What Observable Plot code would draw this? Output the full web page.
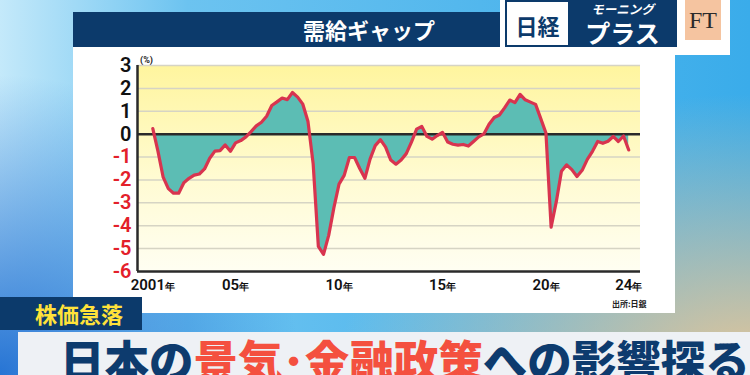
<!DOCTYPE html>
<html><head><meta charset="utf-8">
<script src="https://cdn.jsdelivr.net/npm/d3@7"></script>
<script src="https://cdn.jsdelivr.net/npm/@observablehq/plot@0.6"></script>
<style>
html,body{margin:0;padding:0;}
body{width:750px;height:375px;overflow:hidden;position:relative;font-family:"Noto Sans CJK JP","Noto Sans",sans-serif;}
#bg{position:absolute;left:0;top:0;width:750px;height:375px;
 background:
  radial-gradient(ellipse 55% 75% at 100% 100%, rgba(232,198,150,1) 0%, rgba(232,198,150,0) 100%),
  radial-gradient(ellipse 40% 80% at 0% 100%, rgba(30,110,210,0.95) 0%, rgba(30,110,210,0) 100%),
  linear-gradient(90deg, #c4e9fa 0%, #6cc3f0 25%, #3aacea 100%);}
#titlebar{position:absolute;left:73px;top:12px;width:432px;height:35px;background:#0c3a6b;}
#title{position:absolute;left:303px;top:12px;height:35px;line-height:35px;color:#fff;font-weight:700;font-size:22px;}
#logo{position:absolute;left:500px;top:0;width:230px;height:55px;background:#fff;}
#nk{position:absolute;left:505px;top:0;width:63px;height:47px;box-sizing:border-box;border:2px solid #0c3a6b;border-right:none;background:#fff;color:#0c3a6b;font-weight:700;font-size:22px;line-height:47px;text-align:center;}
#mp{position:absolute;left:568px;top:0;width:109px;height:47px;background:#0c3a6b;color:#fff;font-weight:700;text-align:center;}
#mp .a{position:absolute;left:0;width:109px;top:1px;font-size:12.5px;line-height:15px;font-style:italic;}
#mp .b{position:absolute;left:0;width:109px;top:19px;font-size:25px;line-height:26px;}
#ft{position:absolute;left:685px;top:0;width:36px;height:40px;background:#f5c4a0;color:#2b2b2b;font-family:"Liberation Serif","DejaVu Serif",serif;font-size:24px;line-height:40px;text-align:center;}
#panel{position:absolute;left:73px;top:47px;width:602px;height:266px;background:#fff;}
#chart{position:absolute;left:73px;top:47px;}
#pct{position:absolute;left:140px;top:55px;font-size:9px;font-weight:700;color:#222;font-family:Roboto,sans-serif;}
#src{position:absolute;left:612px;top:298px;font-size:8px;font-weight:700;color:#222;}
#tag{position:absolute;left:0;top:297px;width:142px;height:33px;background:#0c3a6b;color:#ffe23a;font-weight:700;font-size:22px;line-height:33px;}
#tag span{position:absolute;left:35px;top:0;}
#band{position:absolute;left:18px;top:332px;width:732px;height:43px;background:#eef1f5;}
#head{position:absolute;left:60px;top:337px;font-size:44.5px;line-height:44.5px;font-weight:900;color:#0d3b6e;white-space:nowrap;}
#head .r{color:#f4503f;}
</style></head>
<body>
<div id="bg"></div>
<div id="titlebar"></div>
<div id="title">需給ギャップ</div>
<div id="logo"></div>
<div id="nk">日経</div>
<div id="mp"><div class="a">モーニング</div><div class="b">プラス</div></div>
<div id="ft">FT</div>
<div id="panel"></div>
<div id="chart"></div>
<div id="pct">(%)</div>
<div id="src">出所:日銀</div>
<div id="tag"><span>株価急落</span></div>
<div id="band"></div>
<div id="head">日本の<span class="r">景気･金融政策</span>への影響探る</div>
<script>
// Quarterly output gap (%), 2001Q1 .. 2024Q1
const startYear = 2001;
const gapValues = [0.24,-0.75,-1.88,-2.38,-2.58,-2.58,-2.12,-1.93,-1.79,-1.74,
 -1.52,-1.05,-0.74,-0.72,-0.47,-0.75,-0.38,-0.28,-0.12,0.11,
 0.36,0.52,0.78,1.25,1.41,1.58,1.51,1.82,1.62,1.31,
 0.55,-1.3,-4.9,-5.25,-4.42,-3.22,-2.18,-1.80,-1.02,-1.02,
 -1.50,-1.93,-1.09,-0.50,-0.24,-0.57,-1.13,-1.31,-1.13,-0.85,
 -0.35,0.22,0.34,-0.10,-0.22,-0.06,0.08,-0.34,-0.44,-0.48,
 -0.45,-0.52,-0.32,-0.12,0.01,0.43,0.73,0.84,1.15,1.49,
 1.38,1.74,1.50,1.40,1.30,0.68,0.05,-4.06,-2.95,-1.62,
 -1.34,-1.55,-1.85,-1.58,-1.10,-0.75,-0.32,-0.40,-0.31,-0.10,
 -0.32,-0.08,-0.69];
const xTicks = [2001, 2005, 2010, 2015, 2020, 2024];
const xTickLabels = ["2001年", "05年", "10年", "15年", "20年", "24年"];
const yTicksPos = [0, 1, 2, 3];
const yTicksNeg = [-1, -2, -3, -4, -5, -6];
const gridValues = [-5, -4, -3, -2, -1, 1, 2, 3];

const data = gapValues.map((v, i) => ({t: startYear + i / 4, v}));
const ns = "http://www.w3.org/2000/svg";

function background(index, scales, values, dims) {
  const g = document.createElementNS(ns, "g");
  const defs = document.createElementNS(ns, "defs");
  const lg = document.createElementNS(ns, "linearGradient");
  lg.setAttribute("id", "ybg");
  lg.setAttribute("x1", "0"); lg.setAttribute("y1", "0");
  lg.setAttribute("x2", "0"); lg.setAttribute("y2", "1");
  [["0%", "#fff59e"], ["55%", "#fffbd2"], ["100%", "#fffef2"]].forEach(([o, c]) => {
    const s = document.createElementNS(ns, "stop");
    s.setAttribute("offset", o); s.setAttribute("stop-color", c);
    lg.appendChild(s);
  });
  defs.appendChild(lg); g.appendChild(defs);
  const r = document.createElementNS(ns, "rect");
  r.setAttribute("x", dims.marginLeft);
  r.setAttribute("y", dims.marginTop);
  r.setAttribute("width", dims.width - dims.marginLeft - dims.marginRight);
  r.setAttribute("height", dims.height - dims.marginTop - dims.marginBottom);
  r.setAttribute("fill", "url(#ybg)");
  g.appendChild(r);
  return g;
}

const chart = Plot.plot({
  width: 602, height: 266,
  marginLeft: 64, marginRight: 35, marginTop: 18, marginBottom: 42,
  style: {background: "transparent", fontFamily: "Roboto, sans-serif"},
  x: {domain: [2000.26, 2024.57]},
  y: {domain: [-6, 3]},
  marks: [
    background,
    Plot.ruleY(gridValues, {stroke: "#d6d4c4", strokeWidth: 1.5}),
    Plot.areaY(data, {x: "t", y: "v", fill: "#5cbdb4"}),
    Plot.ruleY([0], {stroke: "#2a2a2a", strokeWidth: 2.5}),
    Plot.line(data, {x: "t", y: "v", stroke: "#d8344f", strokeWidth: 3.2, strokeLinejoin: "round"}),
    Plot.ruleX([2000.26], {stroke: "#2a2a2a", strokeWidth: 2.5}),
    Plot.ruleY([-6], {stroke: "#2a2a2a", strokeWidth: 2.5}),
    Plot.axisY({ticks: yTicksPos, tickSize: 0, tickPadding: 6, tickFormat: d => String(d), fill: "#111", fontSize: 20, fontWeight: 600, label: null}),
    Plot.axisY({ticks: yTicksNeg, tickSize: 0, tickPadding: 6, tickFormat: d => String(d), fill: "#e3202a", fontSize: 20, fontWeight: 600, label: null}),
    Plot.axisX({ticks: xTicks, tickSize: 0, tickPadding: 8, tickFormat: d => xTickLabels[xTicks.indexOf(d)], fill: "#111", fontSize: 15, fontWeight: 600, label: null})
  ]
});
chart.querySelectorAll('g[aria-label="x-axis tick label"] text').forEach(t => {
  const s = t.textContent;
  if (s.endsWith("年")) {
    t.textContent = s.slice(0, -1);
    const ts = document.createElementNS(ns, "tspan");
    ts.setAttribute("font-size", "10");
    ts.textContent = "年";
    t.appendChild(ts);
  }
});
document.getElementById("chart").appendChild(chart);
</script>
</body></html>
